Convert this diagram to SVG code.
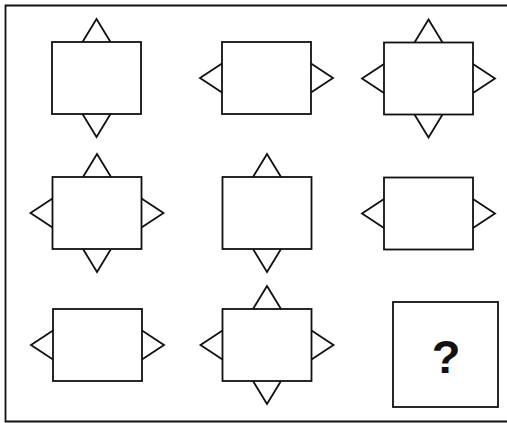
<svg xmlns="http://www.w3.org/2000/svg" xmlns:xlink="http://www.w3.org/1999/xlink" width="507" height="423" viewBox="0 0 507 423">
<style>
.s{fill:none;stroke:#111;stroke-width:1.8;stroke-linejoin:miter}
.box{fill:#fff;stroke:#111;stroke-width:1.8}
.q{font-family:"Liberation Sans",Arial,sans-serif;font-weight:bold;font-size:47px;fill:#111}
</style>
<defs>
<rect id="b" class="box" x="-44.5" y="-36" width="89" height="72"/>
<path id="tt" class="s" d="M-14,-36 L0,-59 L14,-36"/>
<path id="tb" class="s" d="M-14,36 L0,59 L14,36"/>
<path id="tl" class="s" d="M-44.5,-14.5 L-66.5,0 L-44.5,14.5"/>
<path id="tr" class="s" d="M44.5,-14.5 L66.5,0 L44.5,14.5"/>
</defs>
<rect width="507" height="423" fill="#fff"/>
<path id="frame" class="s" d="M520,5.5 H5.5 V421.5 H520"/>
<g id="n11" transform="translate(96.5,78)"><use xlink:href="#b"/><use xlink:href="#tt"/><use xlink:href="#tb"/></g>
<g id="n12" transform="translate(266.5,78)"><use xlink:href="#b"/><use xlink:href="#tl"/><use xlink:href="#tr"/></g>
<g id="n13" transform="translate(428.5,78.5)"><use xlink:href="#b"/><use xlink:href="#tt"/><use xlink:href="#tb"/><use xlink:href="#tl"/><use xlink:href="#tr"/></g>
<g id="n21" transform="translate(97,213)"><use xlink:href="#b"/><use xlink:href="#tt"/><use xlink:href="#tb"/><use xlink:href="#tl"/><use xlink:href="#tr"/></g>
<g id="n22" transform="translate(267,213)"><use xlink:href="#b"/><use xlink:href="#tt"/><use xlink:href="#tb"/></g>
<g id="n23" transform="translate(428.5,213.5)"><use xlink:href="#b"/><use xlink:href="#tl"/><use xlink:href="#tr"/></g>
<g id="n31" transform="translate(97.5,345)"><use xlink:href="#b"/><use xlink:href="#tl"/><use xlink:href="#tr"/></g>
<g id="n32" transform="translate(267,345)"><use xlink:href="#b"/><use xlink:href="#tt"/><use xlink:href="#tb"/><use xlink:href="#tl"/><use xlink:href="#tr"/></g>
<g id="n33"><rect class="box" x="393" y="302" width="105" height="105"/><text class="q" x="446" y="373" text-anchor="middle">?</text></g>
<g id="connectors"/>
</svg>
